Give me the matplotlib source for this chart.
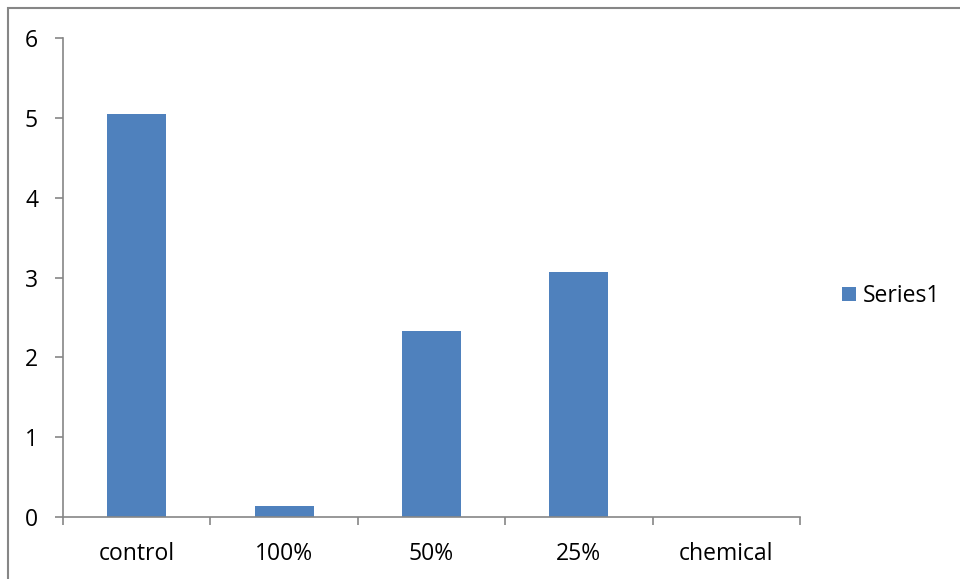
import matplotlib
matplotlib.use("Agg")
import matplotlib.pyplot as plt
from matplotlib.patches import Rectangle

categories = ["control", "100%", "50%", "25%", "chemical"]
series1 = [5.05, 0.14, 2.33, 3.07, 0.0]
y_ticks = [0, 1, 2, 3, 4, 5, 6]

bar_color = "#4F81BD"
axis_color = "#868686"

plt.rcParams["font.family"] = ["Open Sans", "DejaVu Sans"]

W, H = 960, 579
fig = plt.figure(figsize=(W / 100, H / 100), dpi=100)
ax = fig.add_axes([63 / W, 1 - 516.7 / H, (800 - 63) / W, (516.7 - 38.3) / H])

x = list(range(len(categories)))
ax.bar(x, series1, width=0.4, color=bar_color, label="Series1", zorder=2)

ax.set_xlim(-0.5, len(categories) - 0.5)
ax.set_ylim(0, 6)
ax.set_yticks(y_ticks)
ax.set_yticklabels([str(v) for v in y_ticks])

# category labels centred, boundary ticks between categories
ax.set_xticks(x)
ax.set_xticklabels(categories)
ax.tick_params(axis="x", which="major", length=0, pad=18, labelsize=16.5)
ax.set_xticks([i - 0.5 for i in range(len(categories) + 1)], minor=True)
ax.tick_params(axis="x", which="minor", length=6, width=1.2, color=axis_color, direction="out")
ax.tick_params(axis="y", length=6, width=1.2, color=axis_color, pad=12, labelsize=16.5)

for side in ("top", "right"):
    ax.spines[side].set_visible(False)
for side in ("left", "bottom"):
    ax.spines[side].set_color(axis_color)
    ax.spines[side].set_linewidth(1.2)

leg = ax.legend(loc="center left", bbox_to_anchor=(842 / W, 1 - 296 / H),
                bbox_transform=fig.transFigure, frameon=False, fontsize=16.5,
                handlelength=0.6, handleheight=0.6, handletextpad=0.3,
                borderaxespad=0, borderpad=0)

# outer chart frame (left and top edges visible)
fig.patches.append(Rectangle((8 / W, -0.1), 1.2, 1 - 8 / H + 0.1, transform=fig.transFigure,
                             fill=False, edgecolor=axis_color, linewidth=1.5, zorder=0))

fig.savefig("out.png", dpi=100)
